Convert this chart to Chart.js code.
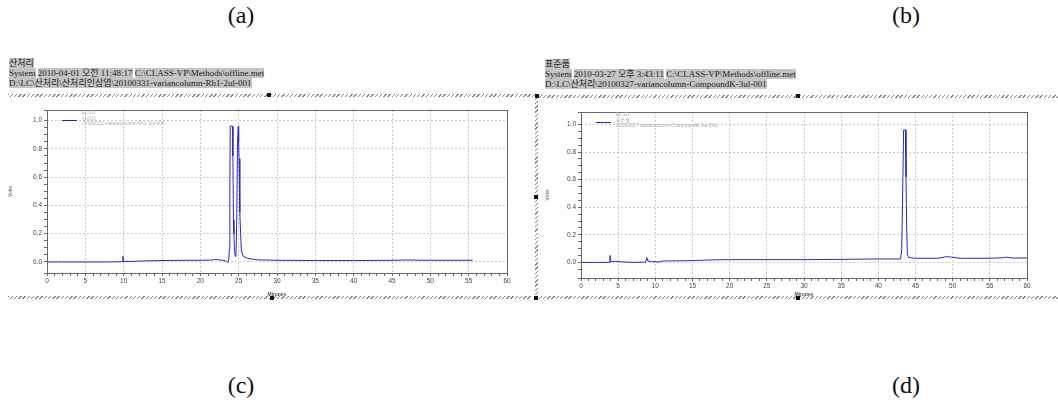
<!DOCTYPE html>
<html>
<head>
<meta charset="utf-8">
<script src="https://cdn.jsdelivr.net/npm/chart.js@4.4.0/dist/chart.umd.min.js"></script>
<style>
    body { margin: 0; width: 1058px; height: 410px; background: #fff; position: relative; overflow: hidden; }
    .lbl { position: absolute; width: 80px; text-align: center; font: 24px 'Liberation Serif', serif; color: #111; }
    .head { position: absolute; font: 9px 'Liberation Serif', 'Noto Sans CJK KR', serif; line-height: 10px; color: #222; white-space: nowrap; }
    .head span { background: #c4c4c4; }
    .hatch { position: absolute; height: 3px; background: repeating-linear-gradient(135deg, #888 0 1px, transparent 1px 3px); }
    .vhatch { position: absolute; width: 3px; background: repeating-linear-gradient(135deg, #888 0 1px, transparent 1px 3px); }
    .sq { position: absolute; width: 4px; height: 4px; background: #111; }
    canvas { position: absolute; }
</style>
</head>
<body>
<div class="lbl" style="left:201px; top:2px;">(a)</div>
<div class="lbl" style="left:866px; top:2px;">(b)</div>
<div class="lbl" style="left:201px; top:372px;">(c)</div>
<div class="lbl" style="left:866px; top:372px;">(d)</div>

<div class="head" style="left:9px; top:58px;">
    <span>산처리</span><br>
    <span>System</span> <span>2010-04-01 오전 11:48:17</span> <span>C:\CLASS-VP\Methods\offline.met</span><br>
    <span>D:\LC\산처리\산처리인삼엽\20100331-variancolumn-Rh1-2ul-001</span>
</div>
<div class="head" style="left:545px; top:59px;">
    <span>표준품</span><br>
    <span>System</span> <span>2010-03-27 오후 3:43:11</span> <span>C:\CLASS-VP\Methods\offline.met</span><br>
    <span>D:\LC\산처리\20100327-variancolumn-CompoundK-3ul-001</span>
</div>

<div class="hatch" style="left:8px; top:94px; width:529px;"></div>
<div class="hatch" style="left:537px; top:95px; width:521px;"></div>
<div class="hatch" style="left:8px; top:296px; width:524px;"></div>
<div class="hatch" style="left:537px; top:296px; width:521px;"></div>
<div class="vhatch" style="left:535px; top:95px; height:204px;"></div>
<div class="sq" style="left:267px; top:93px;"></div>
<div class="sq" style="left:535px; top:94px;"></div>
<div class="sq" style="left:796px; top:94px;"></div>
<div class="sq" style="left:534px; top:195px;"></div>
<div class="sq" style="left:270px; top:296px;"></div>
<div class="sq" style="left:534px; top:296px;"></div>
<div class="sq" style="left:796px; top:296px;"></div>

<canvas id="chartA" width="530" height="200" style="left:0px; top:100px; width:530px; height:200px;"></canvas>
<canvas id="chartB" width="521" height="200" style="left:537px; top:100px; width:521px; height:200px;"></canvas>

<script>
// Dữ liệu sắc ký đồ (a): mẫu 산처리
const timeA = [0, 2, 5, 8, 9.8, 9.9, 10.0, 11, 13, 15, 18, 20, 21.5, 22, 22.5, 23.0, 23.4, 23.6,
    23.72, 23.78, 23.85, 23.9, 24.2, 24.25, 24.32, 24.38, 24.45, 24.55, 24.65, 24.75, 24.85,
    24.95, 25.0, 25.05, 25.15, 25.25, 25.35, 25.6, 26.2, 27.5, 30, 35, 40, 45, 47, 50, 55.5];
const voltsA = [0, 0, 0, 0, 0.002, 0.04, 0.003, 0.004, 0.008, 0.01, 0.012, 0.012, 0.014, 0.018, 0.014, 0.012, 0.005, -0.005,
    0.02, 0.09, 0.5, 0.96, 0.96, 0.75, 0.3, 0.2, 0.08, 0.04, 0.05, 0.3, 0.85,
    0.96, 0.85, 0.73, 0.35, 0.2, 0.08, 0.04, 0.025, 0.015, 0.012, 0.01, 0.01, 0.012, 0.014, 0.012, 0.012];

// Dữ liệu sắc ký đồ (b): chất chuẩn 표준품
const timeB = [0, 2, 3.5, 3.85, 3.9, 4.0, 4.5, 5.5, 7, 8.7, 8.85, 9.0, 9.5, 10.5, 11, 15, 17.5, 20, 25, 30, 35, 40,
    43, 43.15, 43.3, 43.4, 43.65, 43.72, 43.8, 43.9, 44.1, 45, 48, 49.2, 49.8, 51, 55, 56.8, 57.3, 58, 60];
const voltsB = [0, 0, 0, 0.002, 0.05, 0.005, 0.008, 0.004, 0, 0.002, 0.035, 0.01, 0.006, 0.003, 0.01, 0.013, 0.018, 0.02, 0.02, 0.02, 0.022, 0.025,
    0.025, 0.1, 0.6, 0.96, 0.96, 0.62, 0.3, 0.06, 0.035, 0.03, 0.03, 0.042, 0.038, 0.03, 0.03, 0.034, 0.038, 0.032, 0.032];

// Nhãn chú thích và trục
const legendA = ['ELSD', '산처리', '20100331-variancolumn-Rh1-2ul-001'];
const legendB = ['ELSD', '표준품', '20100327-variancolumn-CompoundK-3ul-001'];
const xTickStep = 5;     // nhãn trục x mỗi 5 phút
const yTickStep = 0.2;   // nhãn trục y mỗi 0.2 V

Chart.defaults.font.family = "'Liberation Sans', Arial, sans-serif";

function isMultiple(v, step) {
    const r = v / step;
    return Math.abs(r - Math.round(r)) < 1e-6;
}

// Plugin vẽ khung và chú thích
const framePlugin = {
    id: 'frame',
    afterDraw(chart, args, opts) {
        const { ctx, chartArea: a } = chart;
        ctx.save();
        ctx.strokeStyle = '#666';
        ctx.lineWidth = 1;
        ctx.strokeRect(Math.round(a.left) + 0.5, Math.round(a.top) + 0.5,
            Math.round(a.right - a.left), Math.round(a.bottom - a.top));

        // chú thích
        ctx.strokeStyle = '#2222bb';
        ctx.beginPath();
        ctx.moveTo(a.left + 15, a.top + 10.5);
        ctx.lineTo(a.left + 30, a.top + 10.5);
        ctx.stroke();
        ctx.fillStyle = '#aaa';
        ctx.font = "5px 'Liberation Sans', 'Noto Sans CJK KR', sans-serif";
        ctx.textBaseline = 'middle';
        opts.lines.forEach((t, i) => {
            ctx.fillText(t, a.left + 35, a.top + 3 + i * 5.5);
        });
        ctx.restore();
    }
};

function makeChart(id, xs, ys, cfg) {
    const ctx = document.getElementById(id).getContext('2d');
    return new Chart(ctx, {
        type: 'line',
        data: {
            datasets: [{
                data: xs.map((x, i) => ({ x: x, y: ys[i] })),
                borderColor: '#2828c4',
                borderWidth: 1,
                pointRadius: 0,
                tension: 0
            }]
        },
        options: {
            responsive: false,
            animation: false,
            events: [],
            layout: { padding: cfg.padding },
            plugins: {
                legend: { display: false },
                tooltip: { enabled: false },
                frame: { lines: cfg.legend }
            },
            scales: {
                x: {
                    type: 'linear',
                    min: 0,
                    max: 60,
                    afterFit: s => { s.height = cfg.xHeight; },
                    ticks: {
                        stepSize: 1,
                        autoSkip: false,
                        maxRotation: 0,
                        padding: 1,
                        color: '#444',
                        font: { size: 6.5 },
                        callback: v => isMultiple(v, xTickStep) ? String(v) : ''
                    },
                    grid: {
                        color: c => (c.tick && isMultiple(c.tick.value, xTickStep) && c.tick.value > 0 && c.tick.value < 60) ? '#c8c8c8' : 'rgba(0,0,0,0)',
                        tickColor: '#666',
                        tickLength: 3
                    },
                    border: { display: false, dash: [2, 2] },
                    title: {
                        display: true,
                        text: 'Minutes',
                        color: '#555',
                        font: { size: 5, weight: 'bold' },
                        padding: { top: 0, bottom: 2 }
                    }
                },
                y: {
                    min: cfg.yMin,
                    max: cfg.yMax,
                    afterFit: s => { s.width = cfg.yWidth; },
                    ticks: {
                        stepSize: 0.05,
                        autoSkip: false,
                        padding: 2,
                        color: '#444',
                        font: { size: 6.5 },
                        callback: v => (isMultiple(v, yTickStep) && v > -1e-6 && v < 1.0001) ? v.toFixed(1) : ''
                    },
                    grid: {
                        color: c => (c.tick && isMultiple(c.tick.value, yTickStep) && c.tick.value > -1e-6 && c.tick.value < 1.0001) ? '#c8c8c8' : 'rgba(0,0,0,0)',
                        tickColor: '#666',
                        tickLength: 3
                    },
                    border: { display: false, dash: [2, 2] },
                    title: {
                        display: true,
                        text: 'Volts',
                        color: '#555',
                        font: { size: 5 },
                        padding: { top: 8, bottom: 0 }
                    }
                }
            }
        },
        plugins: [framePlugin]
    });
}

makeChart('chartA', timeA, voltsA, {
    padding: { left: 0, top: 10, right: 23, bottom: 0 },
    yWidth: 47, xHeight: 27, yMin: -0.078, yMax: 1.075, legend: legendA
});
makeChart('chartB', timeB, voltsB, {
    padding: { left: 0, top: 12, right: 31, bottom: 0 },
    yWidth: 44, xHeight: 22, yMin: -0.113, yMax: 1.09, legend: legendB
});
</script>
</body>
</html>
